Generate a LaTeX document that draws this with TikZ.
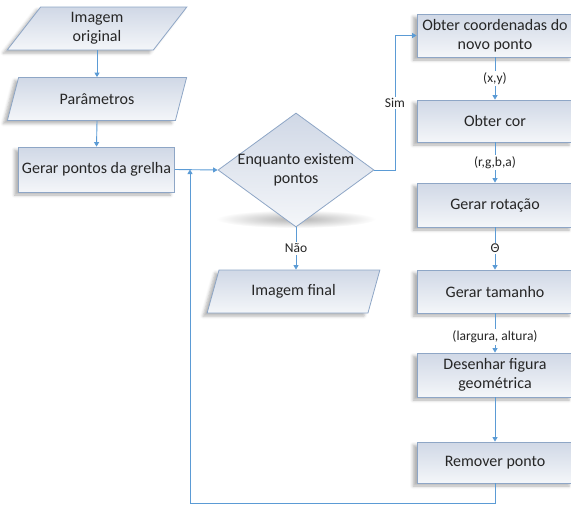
\documentclass[tikz,border=0pt]{standalone}
\usepackage{fontspec}
\setmainfont{Carlito}
\usetikzlibrary{shapes.geometric,arrows.meta,shadows.blur}
\definecolor{lineblue}{HTML}{5B9BD5}
\definecolor{bord}{HTML}{8EA6C6}
\definecolor{ftop}{HTML}{D0D8E6}
\definecolor{fbot}{HTML}{F4F6F9}
\definecolor{txt}{HTML}{262626}
\begin{document}
\begin{tikzpicture}[x=1pt,y=-1pt,
  every node/.style={font=\fontsize{16}{19}\selectfont, text=txt},
  base/.style={draw=bord, line width=0.8pt, top color=ftop, bottom color=fbot, align=center, inner sep=0pt},
  shad/.style={blur shadow={shadow xshift=-4pt, shadow yshift=-3pt, shadow blur radius=3pt, shadow opacity=30}},
  procbox/.style={base, shad, rectangle, minimum width=156pt, minimum height=#1},
  iobox/.style={base, shad, trapezium, trapezium left angle=64, trapezium right angle=116, trapezium stretches=true, minimum height=43pt, minimum width=#1},
  decbox/.style={base, diamond, minimum width=156pt, minimum height=114pt},
  arrowline/.style={draw=lineblue, line width=0.9pt, -{Triangle[width=5pt,length=4.5pt]}},
  lbl/.style={font=\fontsize{13.5}{16}\selectfont, fill=white, inner sep=1.5pt}
]
\useasboundingbox (0,0) rectangle (571,504);
% left column
\node[iobox=180pt] (io1) at (97,28.5) {Imagem\\original};
\node[iobox=180pt] (io2) at (97,99) {Parâmetros};
\node[procbox=45pt] (gp) at (96.5,169.5) {Gerar pontos da grelha};
% decision
\shade[inner color=black!30, outer color=white] (296,219) ellipse [x radius=80, y radius=9];
\node[decbox] (dec) at (296,170) {};
\node[align=center] (dectext) at (dec.center) {Enquanto existem\\pontos};
\node[iobox=173pt] (io3) at (293.5,291.5) {Imagem final};
% right column
\node[procbox=43pt] (r1) at (495,35.5) {Obter coordenadas do\\novo ponto};
\node[procbox=42pt] (r2) at (495,121) {Obter cor};
\node[procbox=44pt] (r3) at (495,205) {Gerar rotação};
\node[procbox=43pt] (r4) at (495,291.5) {Gerar tamanho};
\node[procbox=44pt] (r5) at (495,375) {Desenhar figura\\geométrica};
\node[procbox=41pt] (r6) at (495,462.5) {Remover ponto};
% connectors
\draw[arrowline] (io1.south) -- (io2.north);
\draw[arrowline] (io2.south) -- (gp.north);
\draw[arrowline] (gp.east) -- (dec.west);
\coordinate (simx) at (395,0);
\draw[arrowline] (dec.east) -- (dec.east -| simx) |- (r1.west);
\node[lbl] (sim) at (395,103) {Sim};
\draw[arrowline] (dec.south) -- node[lbl] (nao) {Não} (dec.south |- io3.north);
\draw[arrowline] (r1.south) -- node[lbl] (xy) {(x,y)} (r2.north);
\draw[arrowline] (r2.south) -- node[lbl] (rgba) {(r,g,b,a)} (r3.north);
\draw[arrowline] (r3.south) -- node[lbl] (theta) {Θ} (r4.north);
\draw[arrowline] (r4.south) -- node[lbl, pos=0.6] (wh) {(largura, altura)} (r5.north);
\draw[arrowline] (r5.south) -- (r6.north);
\coordinate (lb) at (190,503);
\draw[arrowline] (r6.south) |- (lb) -- (lb |- gp.east);
\end{tikzpicture}
\end{document}
